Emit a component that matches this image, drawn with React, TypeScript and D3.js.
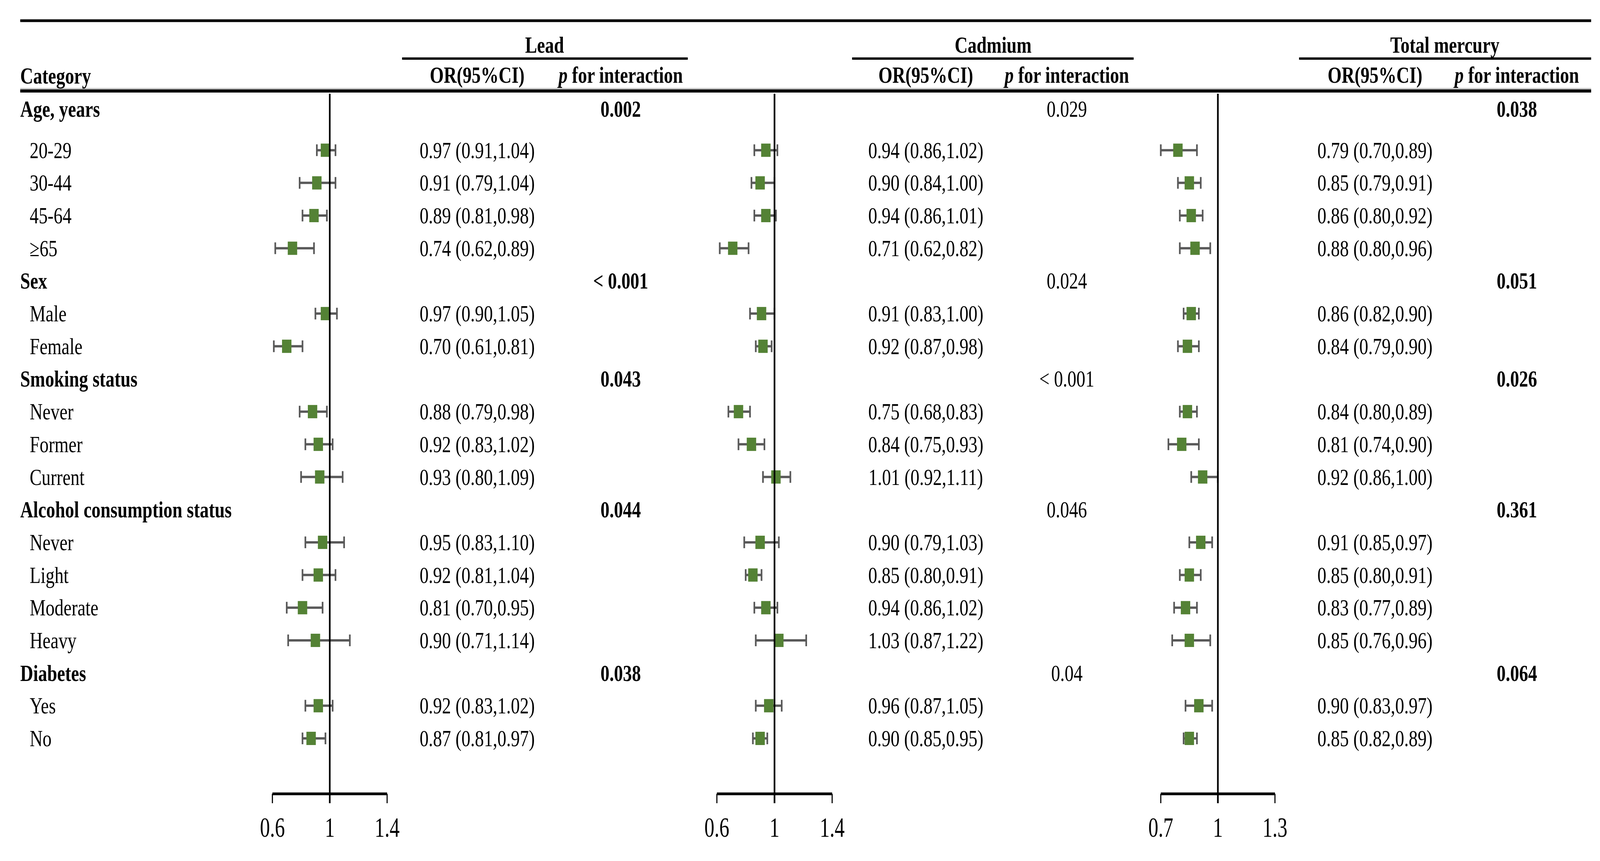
import { useEffect } from "react";
import * as d3 from "d3";

const W = 5774;
const H = 2205;
const FONT = "'Liberation Serif', 'Times New Roman', serif";
const FS = 60;
const SX = 1.08; // text in the reference is slightly wider than the font

const GROUPS = ["Age, years", "Sex", "Smoking status", "Alcohol consumption status", "Diabetes"];
const SUBGROUPS = [
  ["20-29", "30-44", "45-64", "≥65"],
  ["Male", "Female"],
  ["Never", "Former", "Current"],
  ["Never", "Light", "Moderate", "Heavy"],
  ["Yes", "No"],
];

const METALS = ["Lead", "Cadmium", "Total mercury"];

const LEAD_OR = [0.97, 0.91, 0.89, 0.74, 0.97, 0.7, 0.88, 0.92, 0.93, 0.95, 0.92, 0.81, 0.9, 0.92, 0.87];
const LEAD_LO = [0.91, 0.79, 0.81, 0.62, 0.9, 0.61, 0.79, 0.83, 0.8, 0.83, 0.81, 0.7, 0.71, 0.83, 0.81];
const LEAD_HI = [1.04, 1.04, 0.98, 0.89, 1.05, 0.81, 0.98, 1.02, 1.09, 1.1, 1.04, 0.95, 1.14, 1.02, 0.97];
const LEAD_P = ["0.002", "< 0.001", "0.043", "0.044", "0.038"];

const CD_OR = [0.94, 0.9, 0.94, 0.71, 0.91, 0.92, 0.75, 0.84, 1.01, 0.9, 0.85, 0.94, 1.03, 0.96, 0.9];
const CD_LO = [0.86, 0.84, 0.86, 0.62, 0.83, 0.87, 0.68, 0.75, 0.92, 0.79, 0.8, 0.86, 0.87, 0.87, 0.85];
const CD_HI = [1.02, 1.0, 1.01, 0.82, 1.0, 0.98, 0.83, 0.93, 1.11, 1.03, 0.91, 1.02, 1.22, 1.05, 0.95];
const CD_P = ["0.029", "0.024", "< 0.001", "0.046", "0.04"];

const HG_OR = [0.79, 0.85, 0.86, 0.88, 0.86, 0.84, 0.84, 0.81, 0.92, 0.91, 0.85, 0.83, 0.85, 0.9, 0.85];
const HG_LO = [0.7, 0.79, 0.8, 0.8, 0.82, 0.79, 0.8, 0.74, 0.86, 0.85, 0.8, 0.77, 0.76, 0.83, 0.82];
const HG_HI = [0.89, 0.91, 0.92, 0.96, 0.9, 0.9, 0.89, 0.9, 1.0, 0.97, 0.91, 0.89, 0.96, 0.97, 0.89];
const HG_P = ["0.038", "0.051", "0.026", "0.361", "0.064"];

const TICKS = [
  [0.6, 1, 1.4],
  [0.6, 1, 1.4],
  [0.7, 1, 1.3],
];

// layout of each metal block
const PANELS = [
  { or: LEAD_OR, lo: LEAD_LO, hi: LEAD_HI, p: LEAD_P, bold: true, plot: [983, 1397], orX: 1722, pX: 2240, head: [1451, 2482], headX: 1965 },
  { or: CD_OR, lo: CD_LO, hi: CD_HI, p: CD_P, bold: false, plot: [2587, 3003], orX: 3341, pX: 3850, head: [3075, 4091], headX: 3584 },
  { or: HG_OR, lo: HG_LO, hi: HG_HI, p: HG_P, bold: true, plot: [4189, 4601], orX: 4962, pX: 5474, head: [4688, 5742], headX: 5214 },
];

type Row = { label: string; header: boolean; group: number; sub: number };

const rows: Row[] = [];
let k = 0;
GROUPS.forEach((g, gi) => {
  rows.push({ label: g, header: true, group: gi, sub: -1 });
  SUBGROUPS[gi].forEach((s) => {
    rows.push({ label: s, header: false, group: gi, sub: k });
    k++;
  });
});

const yScale = d3.scalePoint<number>().domain(d3.range(rows.length)).range([301, 1891]);
// the first table row sits a little higher than the regular spacing
const rowY = (i: number) => yScale(i)! - (i === 0 ? 22 : 0);

const T = ({ x, yy, children, anchor = "start", bold = false, size = FS, sx = SX }: any) => (
  <text
    transform={`translate(${x},${yy}) scale(${sx},1)`}
    textAnchor={anchor}
    fontFamily={FONT}
    fontSize={size}
    fontWeight={bold ? "bold" : "normal"}
    fill="#000"
  >
    {children}
  </text>
);

const GREEN = "#548235";
const GREY = "#595959";
const AXIS_Y = 2033;

export default function App() {
  useEffect(() => {
    document.body.style.margin = "0";
    document.body.style.overflow = "hidden";
  }, []);

  return (
    <svg
      viewBox={`0 0 ${W} ${H}`}
      preserveAspectRatio="none"
      style={{ position: "absolute", left: 0, top: 0, width: "100vw", height: "100vh", background: "#fff" }}
    >
      <rect width={W} height={H} fill="#fff" />
      {/* table rules */}
      <line x1={73} x2={5742} y1={53} y2={53} stroke="#000" strokeWidth={7} />
      <line x1={73} x2={5742} y1={233} y2={233} stroke="#000" strokeWidth={8} />
      <line x1={73} x2={5742} y1={227} y2={227} stroke="#bbb" strokeWidth={3} />

      <T x={73} yy={214} bold>Category</T>

      {METALS.map((m, i) => {
        const p = PANELS[i];
        return (
          <g key={m}>
            <T x={p.headX} yy={135} anchor="middle" bold>{m}</T>
            <line x1={p.head[0]} x2={p.head[1]} y1={150} y2={150} stroke="#000" strokeWidth={6} />
            <T x={p.orX} yy={212} anchor="middle" bold>OR(95%CI)</T>
            <T x={p.pX} yy={212} anchor="middle" bold>
              <tspan fontStyle="italic">p</tspan> for interaction
            </T>
          </g>
        );
      })}

      {/* category column */}
      {rows.map((r, i) => (
        <T key={i} x={r.header ? 73 : 107} yy={rowY(i) + 20} bold={r.header}>
          {r.label}
        </T>
      ))}

      {PANELS.map((p, pi) => {
        const x = d3.scaleLinear().domain([TICKS[pi][0], TICKS[pi][2]]).range(p.plot);
        return (
          <g key={pi}>
            {rows.map((r, i) => {
              const cy = rowY(i);
              if (r.header) {
                return (
                  <T key={i} x={p.pX} yy={cy + 20} anchor="middle" bold={p.bold}>
                    {p.p[r.group]}
                  </T>
                );
              }
              const s = r.sub;
              const x0 = x(p.lo[s]);
              const x1 = x(p.hi[s]);
              return (
                <g key={i}>
                  <T x={p.orX} yy={cy + 20} anchor="middle">
                    {`${p.or[s].toFixed(2)} (${p.lo[s].toFixed(2)},${p.hi[s].toFixed(2)})`}
                  </T>
                  <line x1={x0} x2={x1} y1={cy} y2={cy} stroke={GREY} strokeWidth={6} />
                  <line x1={x0} x2={x0} y1={cy - 15} y2={cy + 15} stroke={GREY} strokeWidth={6} />
                  <line x1={x1} x2={x1} y1={cy - 15} y2={cy + 15} stroke={GREY} strokeWidth={6} />
                  <rect x={x(p.or[s]) - 17} y={cy - 17} width={34} height={34} fill={GREEN} />
                </g>
              );
            })}
            {/* x axis */}
            <line x1={p.plot[0]} x2={p.plot[1]} y1={AXIS_Y} y2={AXIS_Y} stroke="#000" strokeWidth={7} />
            {TICKS[pi].map((t) => (
              <g key={t}>
                <line x1={x(t)} x2={x(t)} y1={AXIS_Y} y2={AXIS_Y + 24} stroke="#000" strokeWidth={4} />
                <T x={x(t)} yy={2143} anchor="middle" size={72} sx={1}>
                  {String(t)}
                </T>
              </g>
            ))}
            {/* reference line at OR = 1 */}
            <line x1={x(1)} x2={x(1)} y1={240} y2={AXIS_Y + 24} stroke="#000" strokeWidth={6} />
          </g>
        );
      })}
    </svg>
  );
}
